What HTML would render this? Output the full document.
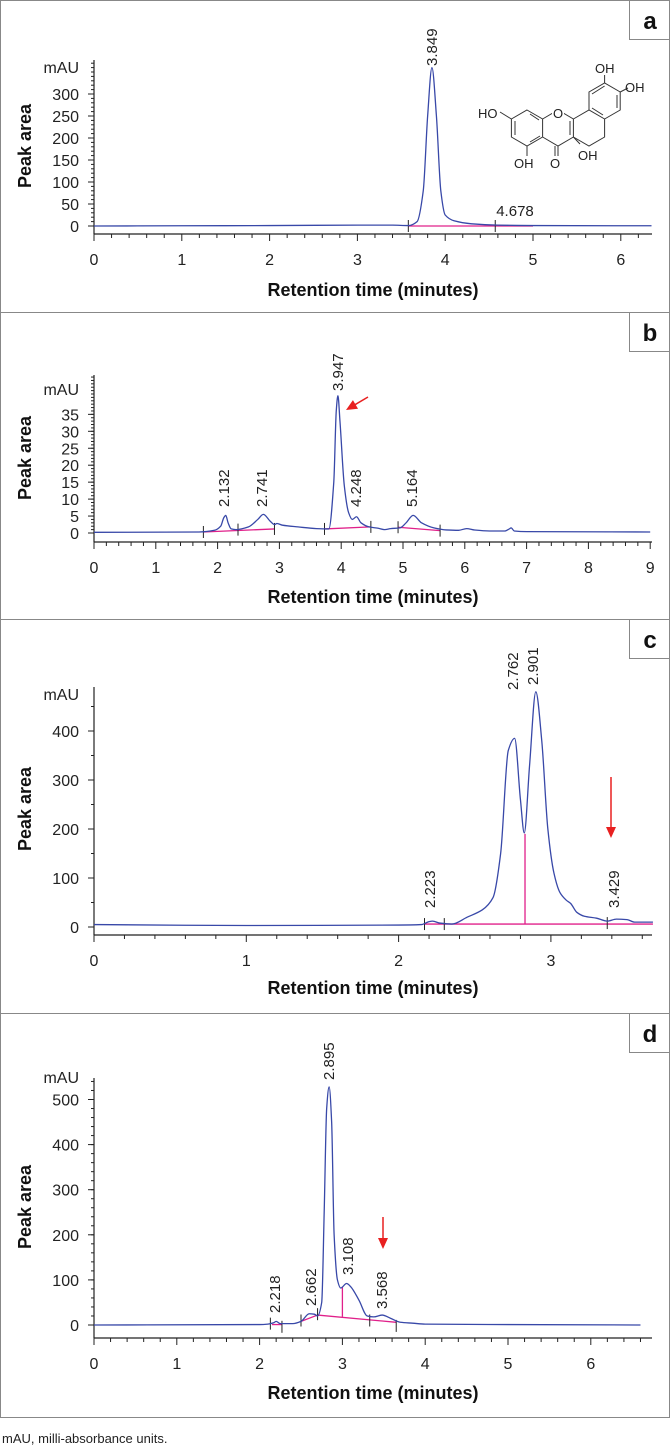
<!DOCTYPE html>
<html><head><meta charset="utf-8"><style>
html,body{margin:0;padding:0;background:#fff;}
svg{display:block;font-family:"Liberation Sans",sans-serif;}
.tk{font-size:16px;fill:#222;}
.ttl{font-size:18px;font-weight:bold;fill:#111;}
.pl{font-size:15px;fill:#222;}
</style></head><body>
<svg id="fig" width="670" height="1446" viewBox="0 0 670 1446" xmlns="http://www.w3.org/2000/svg">
<text x="2" y="1443" font-size="13" fill="#222">mAU, milli-absorbance units.</text>
<g stroke="#333" stroke-width="1" fill="none">
  <path d="M527 110 L542.6 119 L542.6 137 L527 146 L511.4 137 L511.4 119 Z"/>
  <path d="M515 121 L515 135 M530 142 L540 136 M530 114 L539 120"/>
  <path d="M542.6 119 L558 110 L573.4 119 L573.4 137 L558 146 L542.6 137"/>
  <path d="M570 121 L570 135"/>
  <path d="M573.4 119 L589 110 L604.6 119 L604.6 137 L589 146 L573.4 137"/>
  <path d="M589 110 L589 92 L604.6 83 L620.2 92 L620.2 110 L604.6 119"/>
  <path d="M592 94 L604.6 86 M617 95 L617 108 M592 108 L603 115"/>
  <path d="M511.4 119 L500 112 M527 146 L527 156 M558 146 L558 156 M555 146 L555 156 M573.4 137 L580 144 M604.6 83 L604.6 75 M620.2 92 L628 88"/>
</g>
<g font-size="13" fill="#222">
  <rect x="552" y="106" width="12" height="14" fill="#fff"/>
  <text x="478" y="118">HO</text>
  <text x="553" y="118">O</text>
  <text x="514" y="168">OH</text><text x="550" y="168">O</text><text x="578" y="160">OH</text>
  <text x="595" y="73">OH</text><text x="625" y="92">OH</text>
</g>
</svg>
<script>
// ---- Panel a data ----
const aTimes=[0,1,2,3,3.4,3.58,3.68,3.75,3.8,3.849,3.9,3.95,4.0,4.1,4.3,4.6,5,6.35];
const aValues=[0,0.5,1,2,2,1,10,80,250,360,250,80,25,12,5,2,1,0.5];
const aPeakTimes=[3.849];
const aPeakLabels=["3.849"];
const aXTicks=[0,1,2,3,4,5,6];
const aYTicks=[0,50,100,150,200,250,300];
// ---- Panel b data ----
const bTimes=[0,1.7,1.95,2.05,2.1,2.132,2.17,2.22,2.3,2.5,2.65,2.741,2.85,2.92,2.96,3.05,3.3,3.6,3.8,3.88,3.92,3.947,3.98,4.05,4.12,4.18,4.248,4.32,4.45,4.6,4.7,4.8,4.95,5.05,5.164,5.3,5.5,5.7,5.9,6.03,6.15,6.4,6.65,6.72,6.75,6.8,7,9];
const bValues=[0.2,0.3,0.8,2,4.5,5.2,3,1.2,1,1.8,4,5.5,3.5,2.5,2.8,2.3,1.8,1.3,1.2,15,36,40.5,33,14,6,4,4.8,3,1.8,1.4,1,1.3,1.5,3,5.2,3,1.5,0.9,0.8,1.3,0.9,0.6,0.6,1.2,1.5,0.6,0.4,0.3];
const bPeakTimes=[2.132,2.741,3.947,4.248,5.164];
const bPeakLabels=["2.132","2.741","3.947","4.248","5.164"];
const bXTicks=[0,1,2,3,4,5,6,7,8,9];
const bYTicks=[0,5,10,15,20,25,30,35];
// ---- Panel c data ----
const cTimes=[0,1,2,2.15,2.2,2.223,2.27,2.35,2.45,2.55,2.62,2.67,2.72,2.762,2.8,2.825,2.86,2.901,2.94,2.98,3.02,3.06,3.1,3.13,3.17,3.22,3.3,3.37,3.43,3.5,3.55,3.67];
const cValues=[5,3,4,5,11,12,8,6,20,35,60,150,360,385,260,192,330,480,380,200,110,70,55,48,30,22,18,12,16,15,10,10];
const cPeakTimes=[2.223,2.762,2.901,3.429];
const cPeakLabels=["2.223","2.762","2.901","3.429"];
const cXTicks=[0,1,2,3];
const cYTicks=[0,100,200,300,400];
// ---- Panel d data ----
const dTimes=[0,2,2.1,2.17,2.2,2.25,2.4,2.5,2.6,2.66,2.7,2.75,2.78,2.81,2.84,2.87,2.9,2.94,2.98,3.05,3.1,3.2,3.3,3.38,3.48,3.58,3.7,3.85,4,5,6.6];
const dValues=[0,1,2,5,8,3,3,8,25,24,20,50,250,480,528,450,200,100,82,92,85,55,20,18,22,15,6,4,2,1,0];
const dPeakTimes=[2.218,2.662,2.895,3.108,3.568];
const dPeakLabels=["2.218","2.662","2.895","3.108","3.568"];
const dXTicks=[0,1,2,3,4,5,6];
const dYTicks=[0,100,200,300,400,500];

const NS="http://www.w3.org/2000/svg";
const svg=document.getElementById('fig');
function mk(tag,attrs,parent){const e=document.createElementNS(NS,tag);for(const k in attrs)e.setAttribute(k,attrs[k]);(parent||svg).appendChild(e);return e;}

function monoPath(xs,ys){
  const n=xs.length;const d=[],m=new Array(n);
  for(let i=0;i<n-1;i++)d.push((ys[i+1]-ys[i])/(xs[i+1]-xs[i]));
  m[0]=d[0];m[n-1]=d[n-2];
  for(let i=1;i<n-1;i++){ if(d[i-1]*d[i]<=0)m[i]=0; else m[i]=2/(1/d[i-1]+1/d[i]); }
  let p="M"+xs[0].toFixed(2)+" "+ys[0].toFixed(2);
  for(let i=0;i<n-1;i++){const h=xs[i+1]-xs[i];
    p+=" C"+(xs[i]+h/3).toFixed(2)+" "+(ys[i]+m[i]*h/3).toFixed(2)+" "+(xs[i+1]-h/3).toFixed(2)+" "+(ys[i+1]-m[i+1]*h/3).toFixed(2)+" "+xs[i+1].toFixed(2)+" "+ys[i+1].toFixed(2);}
  return p;
}

function panel(cfg){
  const g=mk('g',{});
  
  
  const box=mk('rect',{x:0.5,y:cfg.top+0.5,width:669,height:cfg.bottom-cfg.top,fill:'none',stroke:'#888','stroke-width':1},g);
  
  
  const lb=mk('rect',{x:629.5,y:cfg.top+0.5,width:40,height:39,fill:'#fff',stroke:'#888','stroke-width':1},g);
  
  
  const lt=mk('text',{x:650,y:cfg.top+29,'text-anchor':'middle','font-size':24,'font-weight':'bold',fill:'#111'},g);
  lt.textContent=cfg.id;
  
  
  const X0=94,X1=652;
  const sx=t=>X0+t*cfg.pxPerMin;
  const sy=v=>cfg.y0-v*cfg.pxPerUnit;
  const ya=mk('line',{x1:X0,y1:cfg.axTop,x2:X0,y2:cfg.axY,stroke:'#222','stroke-width':1.2},g);
  
  
  const xa=mk('line',{x1:X0,y1:cfg.axY,x2:X1,y2:cfg.axY,stroke:'#222','stroke-width':1.2},g);
  
  
  for(let v=0;sy(v)>=cfg.axTop;v+=cfg.yMinor){
    mk('line',{x1:X0-3,y1:sy(v),x2:X0,y2:sy(v),stroke:'#222','stroke-width':1},g);
  }
  cfg.yTicks.forEach(v=>{
    mk('line',{x1:X0-6,y1:sy(v),x2:X0,y2:sy(v),stroke:'#222','stroke-width':1},g);
    const t=mk('text',{x:X0-15,y:sy(v)+6,'text-anchor':'end',class:'tk'},g);t.textContent=v;
    
    
  });
  for(let k=0;sx(k*0.2)<=X1+0.5;k++){
    const x=sx(k*0.2);
    mk('line',{x1:x,y1:cfg.axY,x2:x,y2:cfg.axY+(k%5===0?7:4),stroke:'#222','stroke-width':1},g);
  }
  cfg.xTicks.forEach(t0=>{
    const t=mk('text',{x:sx(t0),y:cfg.tickY+6,'text-anchor':'middle',class:'tk'},g);t.textContent=t0;
    
    
  });
  const mau=mk('text',{x:X0-15,y:cfg.mauY+6,'text-anchor':'end',class:'tk'},g);mau.textContent='mAU';
  
  
  const xt=mk('text',{x:373,y:cfg.titleY+6,'text-anchor':'middle',class:'ttl'},g);xt.textContent='Retention time (minutes)';
  
  
  const yt=mk('text',{x:0,y:0,'text-anchor':'middle',class:'ttl',transform:'translate(31,'+cfg.yTitleY+') rotate(-90)'},g);yt.textContent='Peak area';
  
  
  (cfg.baselines||[]).forEach(b=>{
    const l=mk('line',{x1:sx(b[0]),y1:sy(b[1]),x2:sx(b[2]),y2:sy(b[3]),stroke:'#e0208a','stroke-width':1.3},g);
    
    
  });
  (cfg.marks||[]).forEach(m=>{
    const yy=sy(m[1]);
    mk('line',{x1:sx(m[0]),y1:yy-6,x2:sx(m[0]),y2:yy+6,stroke:'#222','stroke-width':1},g);
  });
  const xs=cfg.times.map(sx),ys=cfg.values.map(sy);
  const tr=mk('path',{d:monoPath(xs,ys),fill:'none',stroke:'#3848a8','stroke-width':1.3},g);
  
  
  cfg.peakTimes.forEach((pt,i)=>{
    const x=cfg.labelX?cfg.labelX[i]:sx(pt);
    const t=mk('text',{x:0,y:0,class:'pl',transform:'translate('+(x+5)+','+cfg.labelBottom[i]+') rotate(-90)'},g);
    t.textContent=cfg.peakLabels[i];
    
    
  });
  (cfg.hLabels||[]).forEach(h=>{
    const t=mk('text',{x:h[0],y:h[1],class:'pl','text-anchor':'middle'},g);t.textContent=h[2];
    
    
  });
  (cfg.arrows||[]).forEach(a=>{
    const [x1,y1,x2,y2]=a;const ang=Math.atan2(y2-y1,x2-x1);
    const ag=mk('g',{},g);
    
    
    mk('line',{x1:x1,y1:y1,x2:x2-8*Math.cos(ang),y2:y2-8*Math.sin(ang),stroke:'#e82020','stroke-width':1.5},ag);
    const L=11,W=5;
    const p=[[x2,y2],[x2-L*Math.cos(ang)+W*Math.sin(ang),y2-L*Math.sin(ang)-W*Math.cos(ang)],[x2-L*Math.cos(ang)-W*Math.sin(ang),y2-L*Math.sin(ang)+W*Math.cos(ang)]];
    mk('polygon',{points:p.map(q=>q.join(',')).join(' '),fill:'#e82020'},ag);
  });
  return g;
}

panel({id:'a',top:0,bottom:312,pxPerMin:87.8,y0:226,pxPerUnit:0.44,axTop:60,axY:234,mauY:67,tickY:259,titleY:290,yTitleY:146,
  yTicks:aYTicks,yMinor:10,xTicks:aXTicks,times:aTimes,values:aValues,peakTimes:aPeakTimes,peakLabels:aPeakLabels,labelBottom:[66],
  baselines:[[3.58,0,5.0,0]],marks:[[3.58,0],[4.57,0]],hLabels:[[515,216,'4.678']]});
panel({id:'b',top:312,bottom:619,pxPerMin:61.8,y0:533,pxPerUnit:3.39,axTop:375,axY:542,mauY:389,tickY:567,titleY:597,yTitleY:458,
  yTicks:bYTicks,yMinor:1,xTicks:bXTicks,times:bTimes,values:bValues,peakTimes:bPeakTimes,peakLabels:bPeakLabels,
  labelX:[224,262,338,356,412],labelBottom:[507,507,391,507,507],
  baselines:[[1.77,0.3,2.92,1.2],[3.73,1.2,4.48,1.8],[4.92,1.7,5.6,0.7]],
  marks:[[1.77,0.3],[2.33,1],[2.92,1.2],[3.73,1.2],[4.48,1.8],[4.92,1.7],[5.6,0.7]],
  arrows:[[368,397,346,410]]});
panel({id:'c',top:619,bottom:1013,pxPerMin:152.3,y0:927,pxPerUnit:0.49,axTop:687,axY:935,mauY:694,tickY:960,titleY:988,yTitleY:809,
  yTicks:cYTicks,yMinor:50,xTicks:cXTicks,times:cTimes,values:cValues,peakTimes:cPeakTimes,peakLabels:cPeakLabels,
  labelX:[430,513,533,614],labelBottom:[908,690,685,908],
  baselines:[[2.17,6,3.67,6],[2.83,6,2.83,190]],marks:[[2.17,6],[2.3,6],[3.37,8]],
  arrows:[[611,777,611,838]]});
panel({id:'d',top:1013,bottom:1417,pxPerMin:82.8,y0:1325,pxPerUnit:0.451,axTop:1078,axY:1338,mauY:1077,tickY:1363,titleY:1393,yTitleY:1207,
  yTicks:dYTicks,yMinor:20,xTicks:dXTicks,times:dTimes,values:dValues,peakTimes:dPeakTimes,peakLabels:dPeakLabels,
  labelX:[275,311,329,348,382],labelBottom:[1313,1306,1080,1275,1309],
  baselines:[[2.15,1,2.27,1],[2.5,8,2.7,22],[2.7,22,3.65,6],[3.0,18,3.0,85]],
  marks:[[2.13,3],[2.27,-4],[2.5,10],[2.7,24],[3.33,10],[3.65,-2]],
  arrows:[[383,1217,383,1249]]});
</script>
</body></html>
